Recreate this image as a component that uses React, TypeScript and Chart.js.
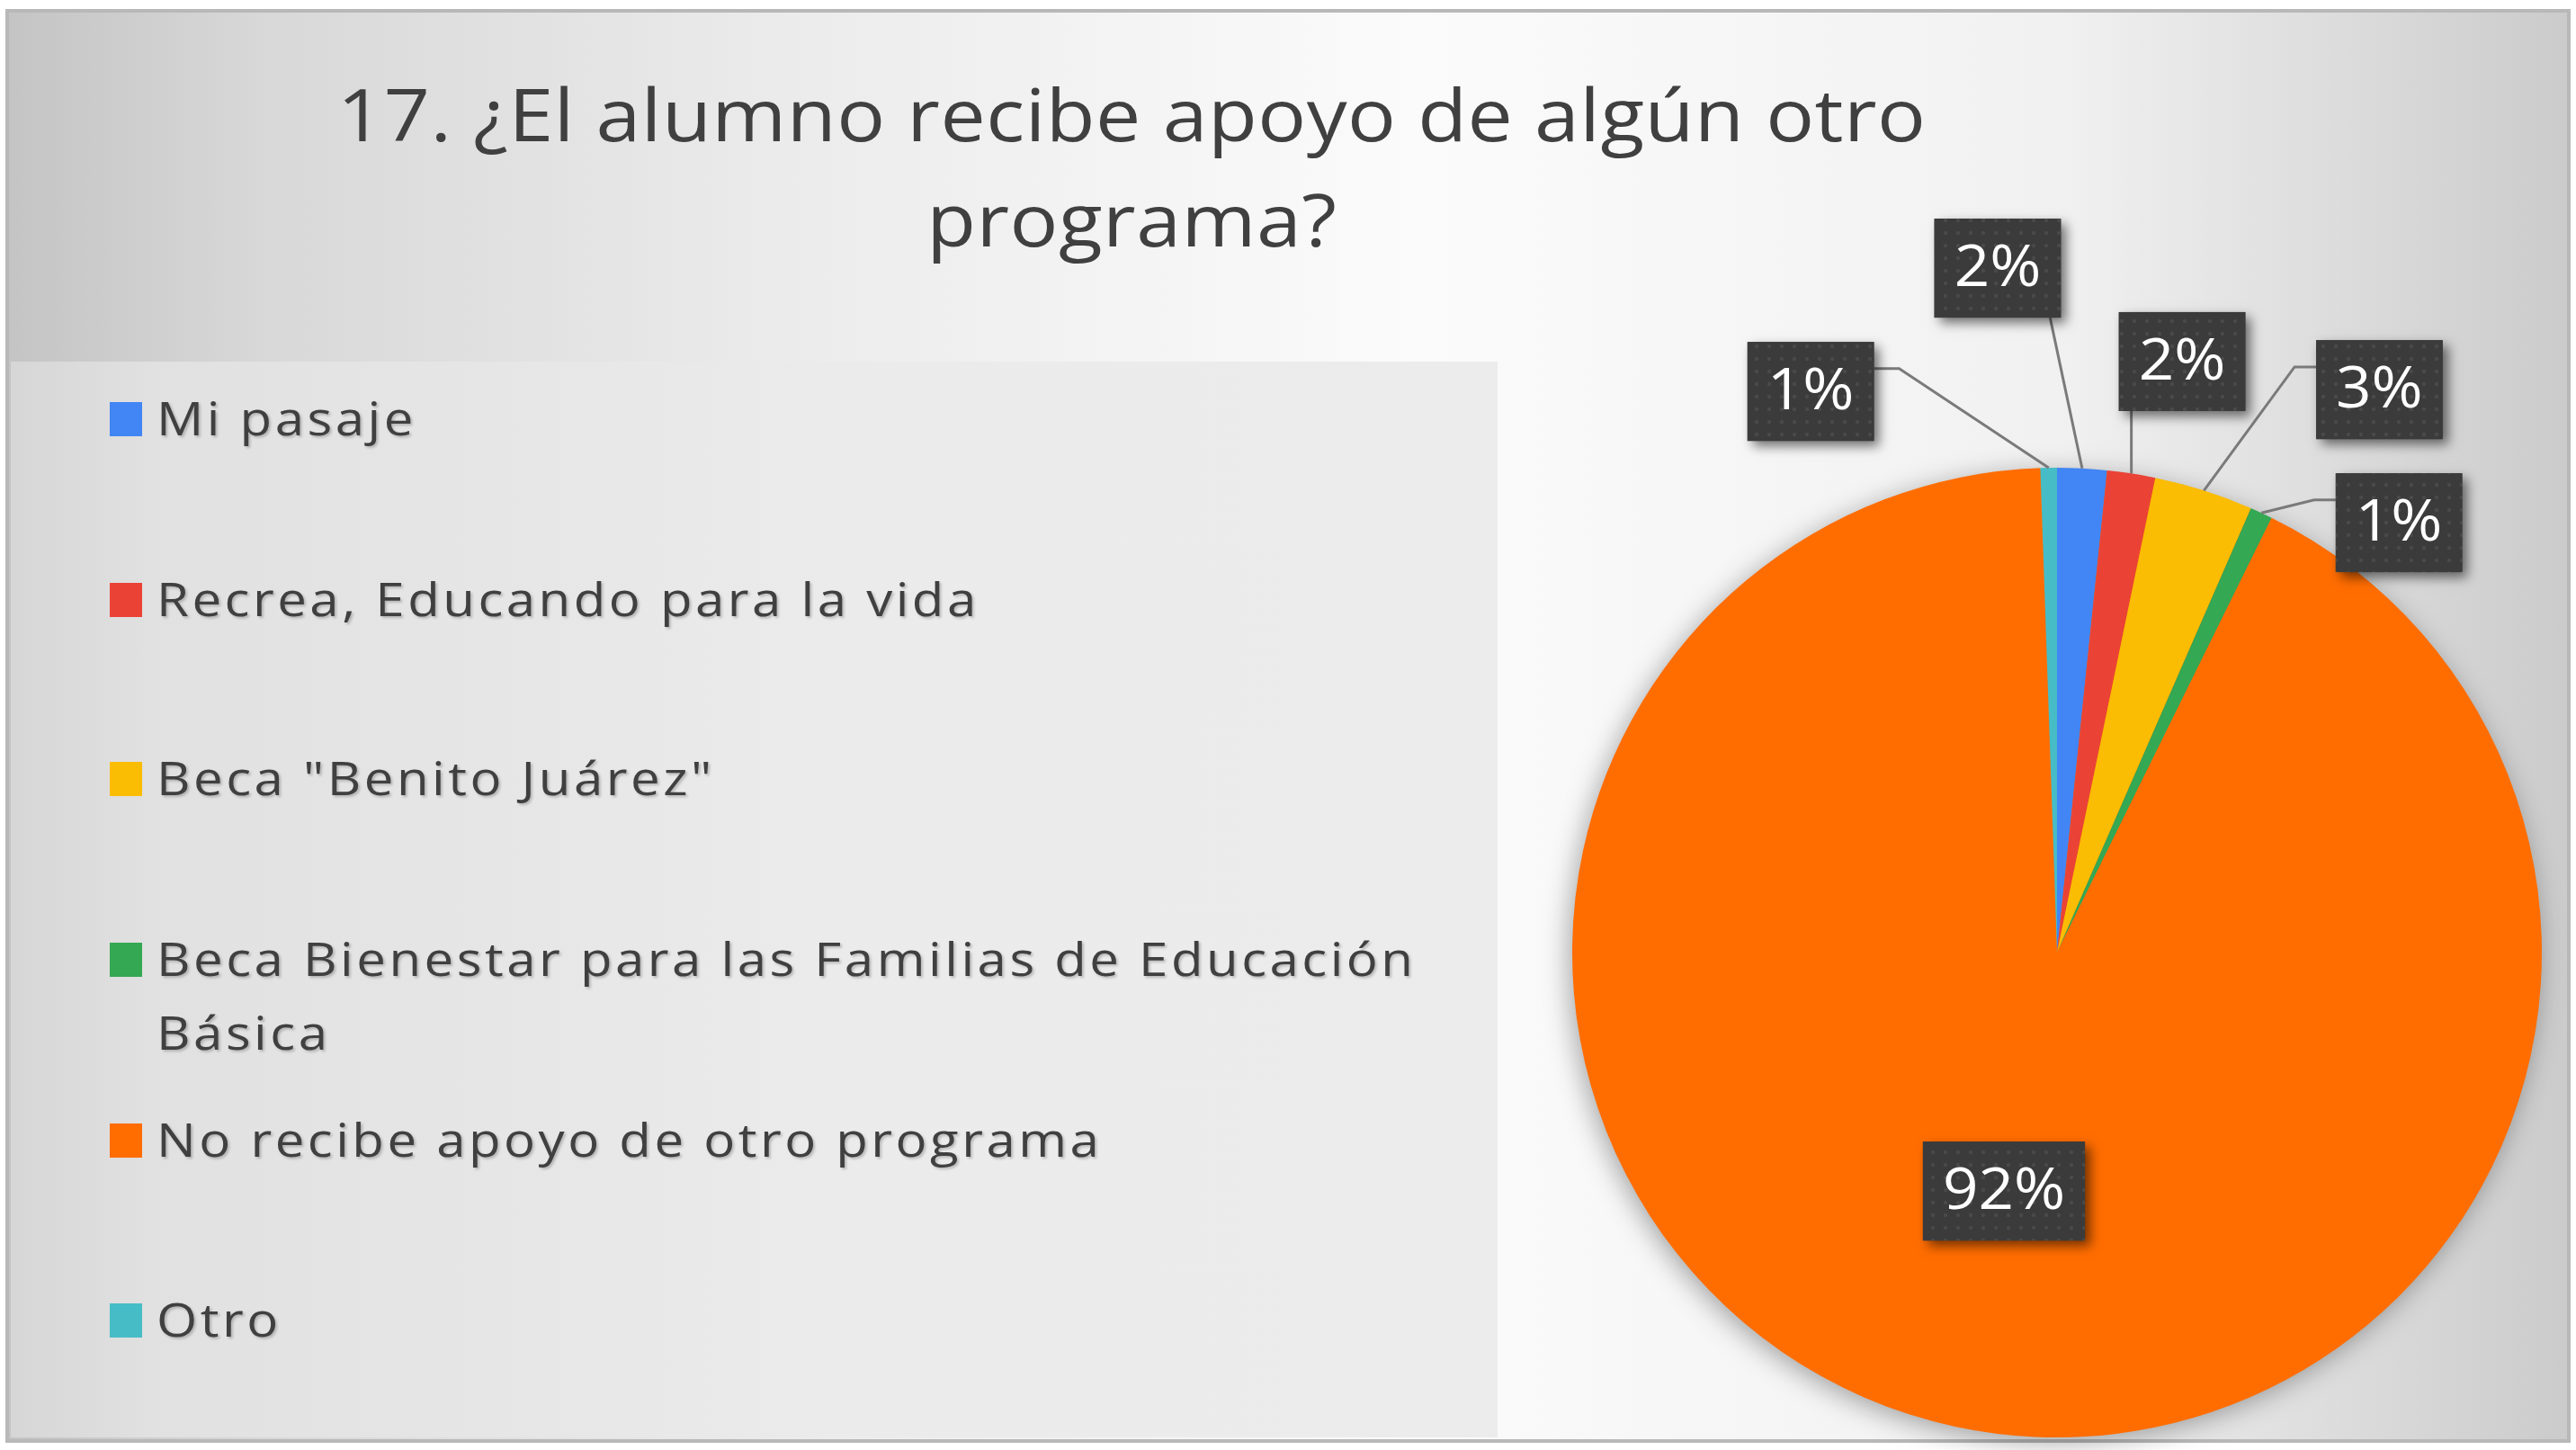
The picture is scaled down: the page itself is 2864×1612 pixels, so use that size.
import React, { useEffect, useRef } from "react";
import { Chart, registerables } from "chart.js";

Chart.register(...registerables);

// ---------- data ----------
const TITLE_LINES = ["17. ¿El alumno recibe apoyo de algún otro", "programa?"];
const CATEGORIES = [
  "Mi pasaje",
  "Recrea, Educando para la vida",
  'Beca "Benito Juárez"',
  "Beca Bienestar para las Familias de Educación Básica",
  "No recibe apoyo de otro programa",
  "Otro",
];
const LEGEND_LINES = [
  ["Mi pasaje"],
  ["Recrea, Educando para la vida"],
  ['Beca "Benito Juárez"'],
  ["Beca Bienestar para las Familias de Educación", "Básica"],
  ["No recibe apoyo de otro programa"],
  ["Otro"],
];
const VALUES = [1.65, 1.6, 3.3, 0.75, 92.15, 0.55];
const COLORS = ["#4285F4", "#EA4335", "#FBBC04", "#34A853", "#FF6D01", "#46BDC6"];
// label placement: angle (deg, clockwise from top) and distance as a factor of the radius
const LABEL_ANGLE = [-4.96, 11.95, 29.8, 38.5, 192.55, -23.7];
const LABEL_DIST = [1.417, 1.246, 1.338, 1.133, 0.504, 1.264];

const W = 2864;
const H = 1612;
const FONT = "'Open Sans', Lato, sans-serif";

function fitText(ctx: CanvasRenderingContext2D, text: string, target: number, maxScale: number) {
  (ctx as any).letterSpacing = "0px";
  const w0 = ctx.measureText(text).width;
  const scaleX = Math.min(maxScale, target / w0);
  const spacing = Math.max(0, (target / scaleX - w0) / Math.max(1, text.length - 1));
  return { scaleX, spacing };
}

function drawText(ctx: CanvasRenderingContext2D, text: string, x: number, y: number, scaleX: number, spacing: number) {
  ctx.save();
  (ctx as any).letterSpacing = spacing + "px";
  ctx.translate(x, y);
  ctx.scale(scaleX, 1);
  ctx.fillText(text, 0, 0);
  ctx.restore();
}

function textWidth(ctx: CanvasRenderingContext2D, text: string, scaleX: number, spacing: number) {
  (ctx as any).letterSpacing = "0px";
  const w0 = ctx.measureText(text).width;
  return (w0 + spacing * (text.length - 1)) * scaleX;
}

const backgroundPlugin = {
  id: "bgPlugin",
  beforeDraw(chart: any) {
    const ctx: CanvasRenderingContext2D = chart.ctx;
    ctx.save();
    ctx.fillStyle = "#ffffff";
    ctx.fillRect(0, 0, W, H);
    const fx = 8, fy = 12, fw = 2848, fh = 1590;
    const g = ctx.createLinearGradient(fx, 0, fx + fw, 0);
    g.addColorStop(0, "#c4c4c4");
    g.addColorStop(0.1, "#d8d8d8");
    g.addColorStop(0.3, "#ebebeb");
    g.addColorStop(0.55, "#fbfbfb");
    g.addColorStop(0.8, "#f1f1f1");
    g.addColorStop(1, "#cbcbcb");
    ctx.fillStyle = g;
    ctx.fillRect(fx, fy, fw, fh);
    const lg = ctx.createLinearGradient(fx, 0, 1665, 0);
    lg.addColorStop(0, "#d6d6d6");
    lg.addColorStop(0.1, "#e1e1e1");
    lg.addColorStop(0.55, "#ebebeb");
    lg.addColorStop(1, "#ececec");
    ctx.fillStyle = lg;
    ctx.fillRect(fx + 4, 402, 1665 - fx - 4, fy + fh - 402 - 4);
    ctx.strokeStyle = "#b8b8b8";
    ctx.lineWidth = 4;
    ctx.strokeRect(fx, fy, fw, fh);
    ctx.restore();
  },
  beforeDatasetsDraw(chart: any) {
    const ctx: CanvasRenderingContext2D = chart.ctx;
    const arc = chart.getDatasetMeta(0).data[0];
    if (!arc) return;
    const p = arc.getProps(["x", "y", "outerRadius"], true);
    ctx.save();
    ctx.shadowColor = "rgba(0,0,0,0.35)";
    ctx.shadowBlur = 30;
    ctx.shadowOffsetX = -4;
    ctx.shadowOffsetY = 6;
    ctx.fillStyle = COLORS[4];
    ctx.beginPath();
    ctx.arc(p.x, p.y, p.outerRadius - 1, 0, Math.PI * 2);
    ctx.fill();
    ctx.restore();
  },
  afterDatasetsDraw(chart: any) {
    const ctx: CanvasRenderingContext2D = chart.ctx;
    const meta = chart.getDatasetMeta(0);
    const data: number[] = chart.data.datasets[0].data;
    const total = data.reduce((a, b) => a + b, 0);
    const pc = document.createElement("canvas");
    pc.width = 14;
    pc.height = 14;
    const pctx = pc.getContext("2d")!;
    pctx.fillStyle = "#3b3b3b";
    pctx.fillRect(0, 0, 14, 14);
    pctx.fillStyle = "#4a4a4a";
    pctx.beginPath();
    pctx.arc(7, 7, 2.2, 0, Math.PI * 2);
    pctx.fill();
    const pattern = ctx.createPattern(pc, "repeat");

    ctx.save();
    ctx.font = `64px ${FONT}`;
    const boxes: any[] = [];
    meta.data.forEach((arc: any, i: number) => {
      const p = arc.getProps(["x", "y", "startAngle", "endAngle", "outerRadius"], true);
      const R = p.outerRadius;
      const mid = (p.startAngle + p.endAngle) / 2;
      const P = { x: p.x + R * Math.cos(mid), y: p.y + R * Math.sin(mid) };
      const a = (LABEL_ANGLE[i] * Math.PI) / 180 - Math.PI / 2;
      const cx = p.x + LABEL_DIST[i] * R * Math.cos(a);
      const cy = p.y + LABEL_DIST[i] * R * Math.sin(a);
      const text = Math.round((data[i] / total) * 100) + "%";
      const tw = ctx.measureText(text).width * 1.08;
      const bw = tw + 44;
      const bh = 110;
      const box = { left: cx - bw / 2, right: cx + bw / 2, top: cy - bh / 2, bottom: cy + bh / 2, cx, cy, text, tw, inside: LABEL_DIST[i] < 1 };
      boxes.push(box);
      if (box.inside) return;
      ctx.strokeStyle = "#7a7a7a";
      ctx.lineWidth = 3;
      ctx.beginPath();
      ctx.moveTo(P.x, P.y);
      if (P.x >= box.left - 5 && P.x <= box.right + 30 && P.y > box.bottom) {
        ctx.lineTo(Math.min(Math.max(P.x, box.left + 12), box.right - 12), box.bottom);
      } else if (P.x > box.right) {
        const ey = box.top + 0.27 * bh;
        ctx.lineTo(box.right + 28, ey);
        ctx.lineTo(box.right, ey);
      } else {
        const ey = box.top + 0.27 * bh;
        ctx.lineTo(box.left - 24, ey);
        ctx.lineTo(box.left, ey);
      }
      ctx.stroke();
    });
    boxes.forEach((b) => {
      ctx.save();
      ctx.shadowColor = "rgba(0,0,0,0.55)";
      ctx.shadowBlur = 12;
      ctx.shadowOffsetX = 6;
      ctx.shadowOffsetY = 6;
      ctx.fillStyle = "#3b3b3b";
      ctx.fillRect(b.left, b.top, b.right - b.left, b.bottom - b.top);
      ctx.restore();
      if (pattern) {
        ctx.fillStyle = pattern;
        ctx.fillRect(b.left, b.top, b.right - b.left, b.bottom - b.top);
      }
      ctx.fillStyle = "#ffffff";
      ctx.textAlign = "left";
      ctx.textBaseline = "middle";
      drawText(ctx, b.text, b.cx - b.tw / 2, b.cy + 2, 1.08, 0);
    });
    ctx.restore();
  },
  afterDraw(chart: any) {
    const ctx: CanvasRenderingContext2D = chart.ctx;
    ctx.save();
    // title
    ctx.fillStyle = "#404040";
    ctx.textBaseline = "alphabetic";
    ctx.textAlign = "left";
    ctx.font = `80px ${FONT}`;
    const titleCenter = 1258;
    const tf = fitText(ctx, TITLE_LINES[0], 1766, 1.12);
    TITLE_LINES.forEach((ln, i) => {
      const w = textWidth(ctx, ln, tf.scaleX, tf.spacing);
      drawText(ctx, ln, titleCenter - w / 2, 157 + i * 117, tf.scaleX, tf.spacing);
    });

    // legend
    ctx.font = `51px ${FONT}`;
    const lf = fitText(ctx, LEGEND_LINES[3][0], 1397, 1.14);
    const rowY = [466, 667, 866, 1067, 1268, 1468];
    const colors: string[] = chart.data.datasets[0].backgroundColor;
    LEGEND_LINES.forEach((lines, i) => {
      const cy = rowY[i];
      ctx.fillStyle = colors[i];
      ctx.fillRect(122, cy - 19, 36, 38);
      ctx.save();
      ctx.shadowColor = "rgba(0,0,0,0.22)";
      ctx.shadowBlur = 3;
      ctx.shadowOffsetX = 2;
      ctx.shadowOffsetY = 2;
      ctx.fillStyle = "#404040";
      lines.forEach((ln, j) => {
        drawText(ctx, ln, 174, cy + 18 + j * 82, lf.scaleX, lf.spacing);
      });
      ctx.restore();
    });
    ctx.restore();
  },
};

export default function App() {
  const ref = useRef<HTMLCanvasElement | null>(null);
  useEffect(() => {
    if (!ref.current) return;
    const chart = new Chart(ref.current, {
      type: "pie",
      data: {
        labels: CATEGORIES,
        datasets: [
          {
            data: VALUES,
            backgroundColor: COLORS,
            borderWidth: 0,
          },
        ],
      },
      options: {
        responsive: false,
        animation: false,
        devicePixelRatio: 1,
        layout: { padding: { left: 1748, right: 38, top: 520, bottom: 14 } },
        plugins: {
          legend: { display: false },
          title: { display: false },
          tooltip: { enabled: false },
        },
      },
      plugins: [backgroundPlugin],
    });
    return () => chart.destroy();
  }, []);
  return (
    <div style={{ position: "absolute", left: 0, top: 0, width: W, height: H }}>
      <canvas ref={ref} width={W} height={H} style={{ display: "block", width: W, height: H }} />
    </div>
  );
}
